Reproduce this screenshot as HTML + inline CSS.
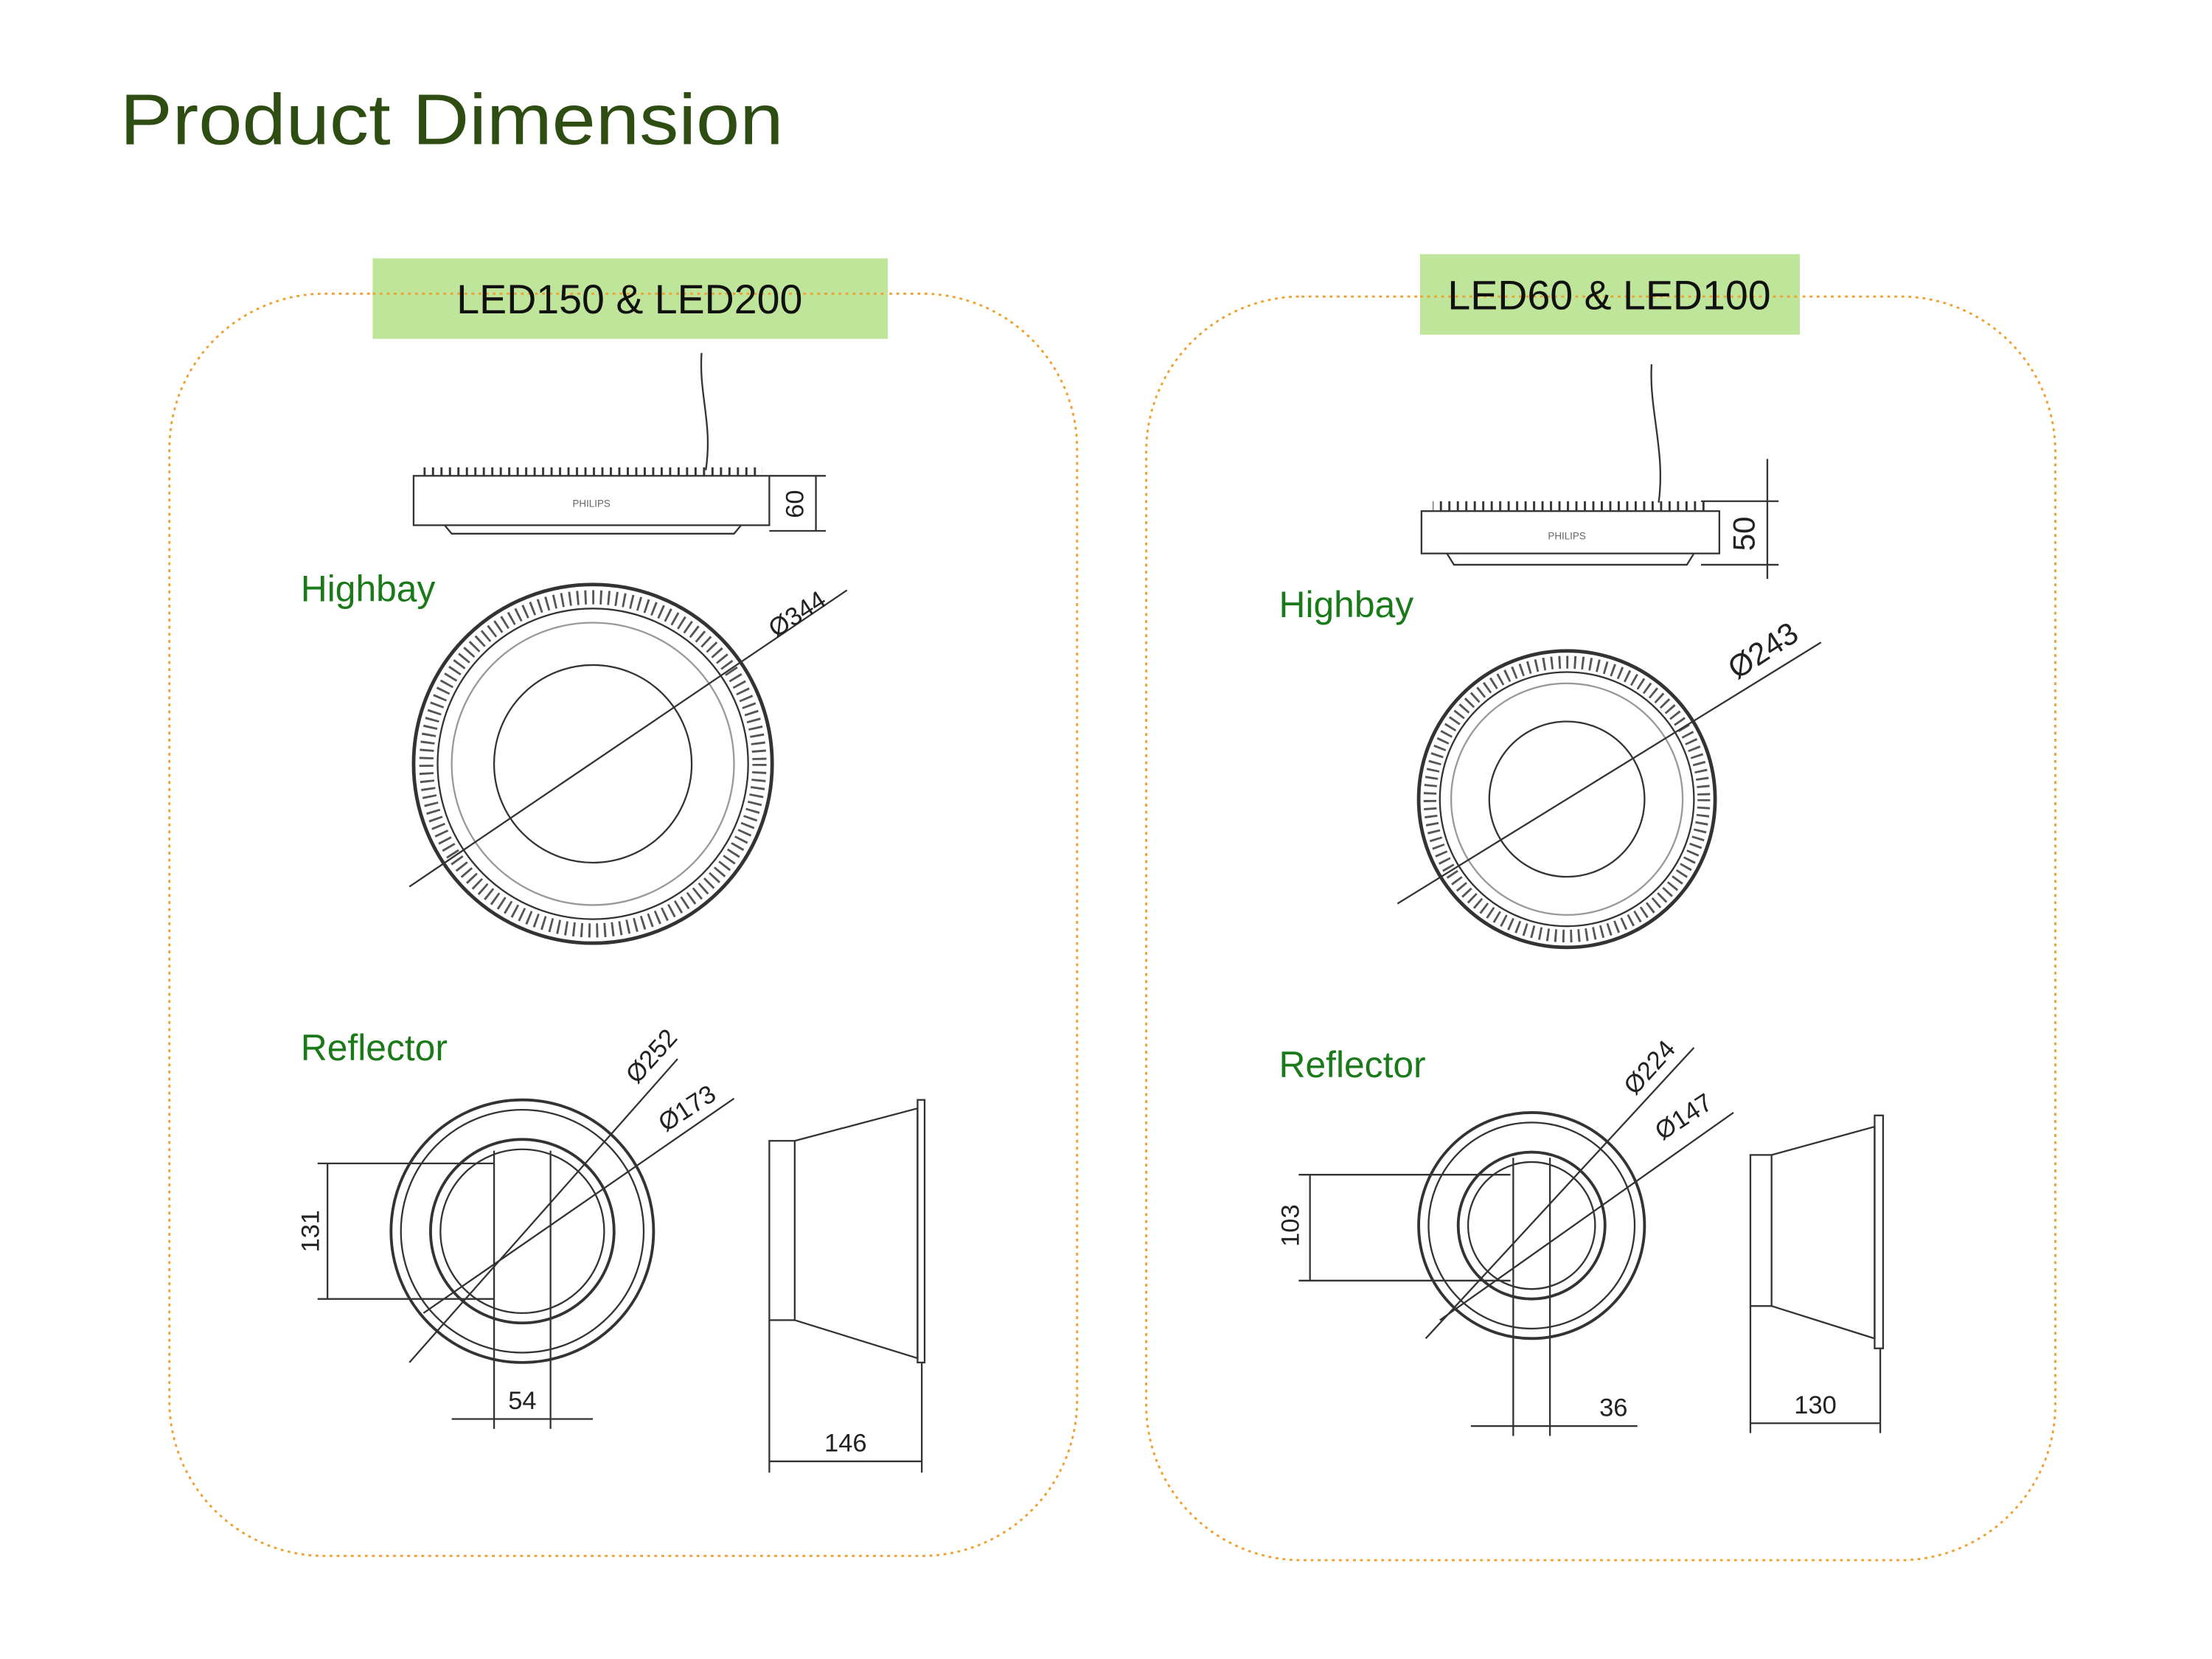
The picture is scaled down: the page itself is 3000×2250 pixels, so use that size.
<!DOCTYPE html>
<html><head><meta charset="utf-8"><style>
html,body{margin:0;padding:0;background:#fff;}
svg{display:block}
</style></head><body>
<svg width="3000" height="2250" viewBox="0 0 1567 1175" preserveAspectRatio="none" xmlns="http://www.w3.org/2000/svg" font-family="Liberation Sans, sans-serif">
<defs>
<pattern id="finsL" width="6" height="10" patternUnits="userSpaceOnUse"><rect x="0" y="0" width="1.5" height="10" fill="#333"/></pattern>
</defs>
<text x="85" y="102" font-size="51" fill="#2e4d12" textLength="470" lengthAdjust="spacingAndGlyphs">Product Dimension</text>

<!-- left panel -->
<rect x="120" y="208" width="643" height="894" rx="110" fill="none" stroke="#f0a030" stroke-width="1.5" stroke-dasharray="2,3"/>
<rect x="264" y="183" width="365" height="57" fill="#bfe59a"/>
<line x1="264" y1="208" x2="629" y2="208" stroke="#f0a030" stroke-width="1.5" stroke-dasharray="2,3"/>
<text x="446" y="222" font-size="29" text-anchor="middle" fill="#111">LED150 &amp; LED200</text>
<text x="213" y="426" font-size="26" fill="#1a7a1a">Highbay</text>
<text x="213" y="751" font-size="26" fill="#1a7a1a">Reflector</text>

<g stroke="#333" fill="none" stroke-width="1.2">
<path d="M497 250 C495 280 505 300 500 333"/>
<rect x="300" y="331" width="240" height="6" fill="url(#finsL)" stroke="none"/>
<rect x="293" y="337" width="252" height="35"/>
<path d="M315 372 L320 378 L520 378 L525 372"/>
<line x1="545" y1="337" x2="585" y2="337"/><line x1="545" y1="376" x2="585" y2="376"/>
<line x1="578" y1="337" x2="578" y2="376"/>
<circle cx="420" cy="541" r="127" stroke-width="2.5"/>
<circle cx="420" cy="541" r="118" stroke-width="10" stroke="#555" stroke-dasharray="1.5,4"/>
<circle cx="420" cy="541" r="110"/>
<circle cx="420" cy="541" r="100" stroke="#999"/>
<circle cx="420" cy="541" r="70"/>
<line x1="290" y1="628" x2="600" y2="418"/>
<circle cx="370" cy="872" r="93" stroke-width="2"/>
<circle cx="370" cy="872" r="86"/>
<circle cx="370" cy="872" r="65" stroke-width="2"/>
<circle cx="370" cy="872" r="58"/>
<line x1="225" y1="824" x2="350" y2="824"/><line x1="225" y1="920" x2="350" y2="920"/>
<line x1="232" y1="824" x2="232" y2="920"/>
<line x1="350" y1="815" x2="350" y2="1012"/><line x1="390" y1="815" x2="390" y2="1012"/>
<line x1="320" y1="1005" x2="420" y2="1005"/>
<line x1="290" y1="965" x2="480" y2="750"/>
<line x1="300" y1="930" x2="520" y2="778"/>
<rect x="545" y="808" width="18" height="127"/>
<path d="M563 808 L650 785 L650 962 L563 935"/>
<rect x="650" y="779" width="5" height="186"/>
<line x1="545" y1="935" x2="545" y2="1043"/><line x1="653" y1="965" x2="653" y2="1043"/>
<line x1="545" y1="1035" x2="653" y2="1035"/>
</g>
<text x="419" y="359" font-size="7" fill="#666" text-anchor="middle">PHILIPS</text>
<text font-size="18" fill="#222" transform="translate(569,357) rotate(-90)" text-anchor="middle">60</text>
<text font-size="18" fill="#222" transform="translate(568,440) rotate(-33)" text-anchor="middle">Ø344</text>
<text font-size="18" fill="#222" transform="translate(466,752) rotate(-48)" text-anchor="middle">Ø252</text>
<text font-size="18" fill="#222" transform="translate(490,790) rotate(-33)" text-anchor="middle">Ø173</text>
<text font-size="18" fill="#222" transform="translate(226,872) rotate(-90)" text-anchor="middle">131</text>
<text x="370" y="998" font-size="18" fill="#222" text-anchor="middle">54</text>
<text x="599" y="1028" font-size="18" fill="#222" text-anchor="middle">146</text>

<!-- right panel -->
<rect x="812" y="210" width="644" height="895" rx="110" fill="none" stroke="#f0a030" stroke-width="1.5" stroke-dasharray="2,3"/>
<rect x="1006" y="180" width="269" height="57" fill="#bfe59a"/>
<line x1="1006" y1="210" x2="1275" y2="210" stroke="#f0a030" stroke-width="1.5" stroke-dasharray="2,3"/>
<text x="1140" y="219" font-size="29" text-anchor="middle" fill="#111">LED60 &amp; LED100</text>
<text x="906" y="437" font-size="26" fill="#1a7a1a">Highbay</text>
<text x="906" y="763" font-size="26" fill="#1a7a1a">Reflector</text>

<g stroke="#333" fill="none" stroke-width="1.2">
<path d="M1170 258 C1168 290 1180 320 1175 356"/>
<rect x="1015" y="355" width="195" height="7" fill="url(#finsL)" stroke="none"/>
<rect x="1007" y="362" width="211" height="30"/>
<path d="M1025 392 L1030 400 L1195 400 L1200 392"/>
<line x1="1205" y1="355" x2="1260" y2="355"/><line x1="1205" y1="400" x2="1260" y2="400"/>
<line x1="1252" y1="325" x2="1252" y2="410"/>
<circle cx="1110" cy="566" r="105" stroke-width="2.5"/>
<circle cx="1110" cy="566" r="97" stroke-width="9" stroke="#555" stroke-dasharray="1.5,4"/>
<circle cx="1110" cy="566" r="90"/>
<circle cx="1110" cy="566" r="82" stroke="#999"/>
<circle cx="1110" cy="566" r="55"/>
<line x1="990" y1="640" x2="1290" y2="455"/>
<circle cx="1085" cy="868" r="80" stroke-width="2"/>
<circle cx="1085" cy="868" r="73"/>
<circle cx="1085" cy="868" r="52" stroke-width="2"/>
<circle cx="1085" cy="868" r="45"/>
<line x1="920" y1="832" x2="1070" y2="832"/><line x1="920" y1="907" x2="1070" y2="907"/>
<line x1="928" y1="832" x2="928" y2="907"/>
<line x1="1072" y1="820" x2="1072" y2="1017"/><line x1="1098" y1="820" x2="1098" y2="1017"/>
<line x1="1042" y1="1010" x2="1160" y2="1010"/>
<line x1="1010" y1="948" x2="1200" y2="742"/>
<line x1="1020" y1="935" x2="1228" y2="788"/>
<rect x="1240" y="818" width="15" height="107"/>
<path d="M1255 818 L1328 798 L1328 948 L1255 925"/>
<rect x="1328" y="790" width="6" height="165"/>
<line x1="1240" y1="925" x2="1240" y2="1015"/><line x1="1332" y1="955" x2="1332" y2="1015"/>
<line x1="1240" y1="1008" x2="1332" y2="1008"/>
</g>
<text x="1110" y="382" font-size="7" fill="#666" text-anchor="middle">PHILIPS</text>
<text font-size="22" fill="#222" transform="translate(1243,378) rotate(-90)" text-anchor="middle">50</text>
<text font-size="22" fill="#222" transform="translate(1253,467) rotate(-33)" text-anchor="middle">Ø243</text>
<text font-size="18" fill="#222" transform="translate(1173,760) rotate(-48)" text-anchor="middle">Ø224</text>
<text font-size="18" fill="#222" transform="translate(1196,796) rotate(-33)" text-anchor="middle">Ø147</text>
<text font-size="18" fill="#222" transform="translate(920,868) rotate(-90)" text-anchor="middle">103</text>
<text x="1143" y="1003" font-size="18" fill="#222" text-anchor="middle">36</text>
<text x="1286" y="1001" font-size="18" fill="#222" text-anchor="middle">130</text>
</svg>
</body></html>
